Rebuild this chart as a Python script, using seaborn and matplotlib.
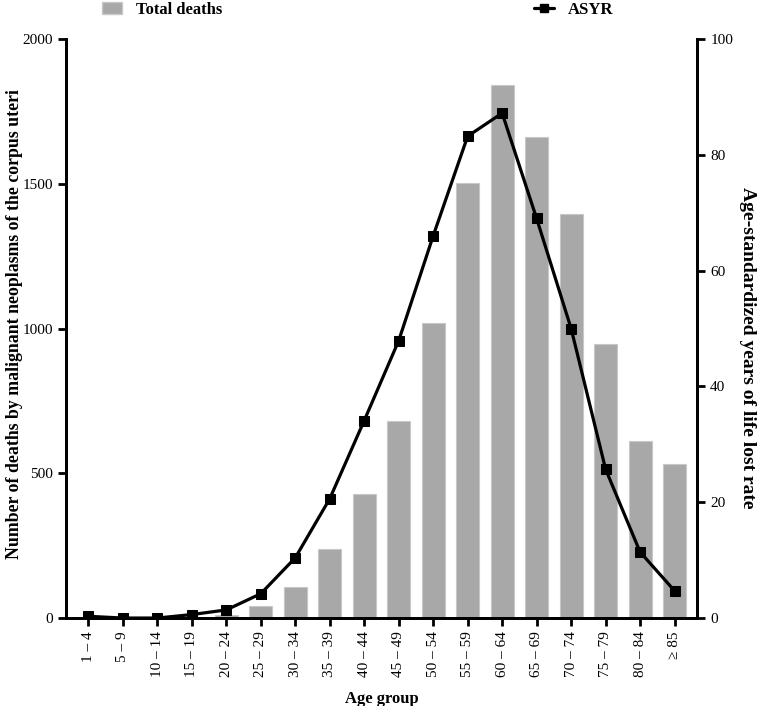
import matplotlib
matplotlib.use('Agg')
import matplotlib.pyplot as plt
import seaborn as sns
import pandas as pd
from matplotlib.patches import Patch
from matplotlib.lines import Line2D

# 데이터
age_groups = ['1 – 4', '5 – 9', '10 – 14', '15 – 19', '20 – 24', '25 – 29', '30 – 34',
              '35 – 39', '40 – 44', '45 – 49', '50 – 54', '55 – 59', '60 – 64',
              '65 – 69', '70 – 74', '75 – 79', '80 – 84', '≥ 85']
total_deaths = [0, 0, 0, 2, 10, 41, 106, 240, 430, 680, 1019, 1503, 1841,
                1661, 1395, 946, 611, 532]
asyr = [0.3, 0.0, 0.0, 0.6, 1.4, 4.2, 10.4, 20.6, 34.1, 47.9, 66.0, 83.2, 87.2,
        69.0, 50.0, 25.7, 11.4, 4.7]

df = pd.DataFrame({'age': age_groups, 'deaths': total_deaths, 'asyr': asyr})

sns.set_style('ticks')
plt.rcParams['font.family'] = ['Liberation Serif', 'DejaVu Serif']
plt.rcParams['axes.linewidth'] = 2
for key in ('text.color', 'axes.labelcolor', 'xtick.color', 'ytick.color', 'axes.edgecolor'):
    plt.rcParams[key] = 'black'

fig, ax1 = plt.subplots(figsize=(7.58, 7.06), dpi=100)
fig.subplots_adjust(left=0.087, right=0.9195, top=0.9448, bottom=0.1246)

# 막대 - 총 사망자수
sns.barplot(df, x='age', y='deaths', color='#a8a8a8', saturation=1, width=0.67,
            edgecolor='#c8c8c8', linewidth=0.8, ax=ax1)
ax1.set_ylim(0, 2000)
ax1.set_yticks([0, 500, 1000, 1500, 2000])
ax1.set_xlim(-0.65, 17.65)

# 선 - ASYR
ax2 = ax1.twinx()
sns.lineplot(df, x='age', y='asyr', color='black', linewidth=2.3, marker='s',
             markersize=7, markeredgecolor='black', ax=ax2)
ax2.set_ylim(0, 100)
ax2.set_yticks([0, 20, 40, 60, 80, 100])
ax2.set_xlim(-0.65, 17.65)

for ax in (ax1, ax2):
    ax.spines['top'].set_visible(False)
    ax.tick_params(width=2, length=6, labelsize=11, colors='black')
ax1.tick_params(axis='x', rotation=90, labelsize=11)
for sp in ('left', 'bottom', 'right'):
    ax2.spines[sp].set_linewidth(2)

ax1.set_xlabel('Age group', fontsize=12, fontweight='bold', labelpad=10)
ax1.set_ylabel('Number of deaths by malignant neoplasms of the corpus uteri',
               fontsize=12.75, fontweight='bold')
ax1.yaxis.set_label_coords(-0.068, 0.508)
ax2.set_ylabel('Age-standardized years of life lost rate', fontsize=14,
               fontweight='bold', rotation=-90)
ax2.yaxis.set_label_coords(1.0935, 0.466)

# 범례
h1 = Patch(facecolor='#a8a8a8', edgecolor='#c8c8c8')
h2 = Line2D([], [], color='black', linewidth=2.3, marker='s', markersize=6)
fig.legend([h1], ['Total deaths'], loc='upper left', bbox_to_anchor=(0.115, 1.019),
           frameon=False, prop={'weight': 'bold', 'size': 12}, handlelength=1.2)
fig.legend([h2], ['ASYR'], loc='upper left', bbox_to_anchor=(0.685, 1.019),
           frameon=False, prop={'weight': 'bold', 'size': 12}, handlelength=1.2)

fig.savefig('out.png', dpi=100)
